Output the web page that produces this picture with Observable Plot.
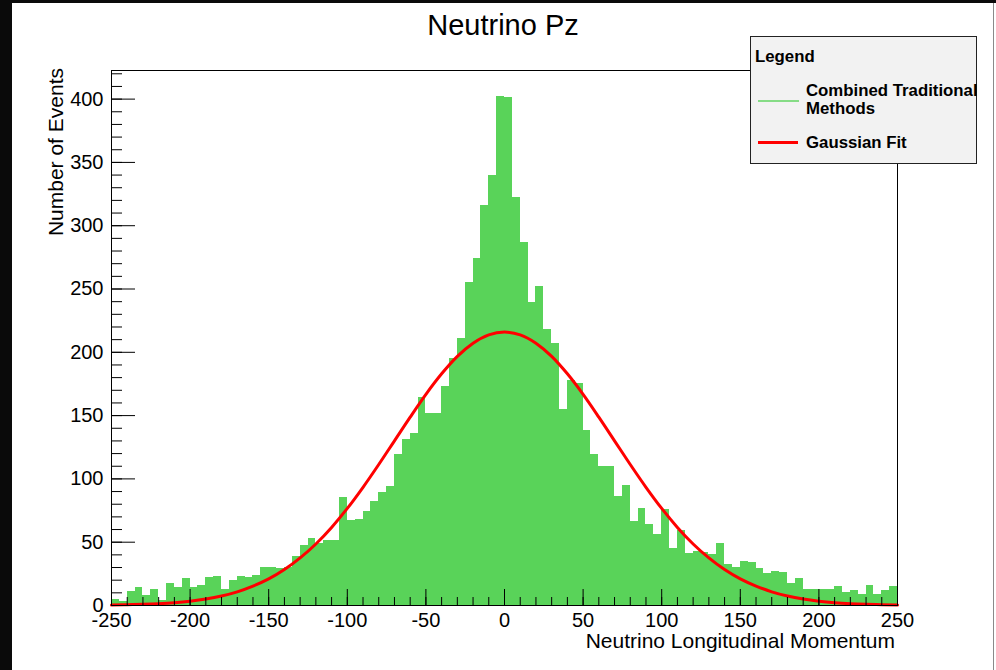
<!DOCTYPE html>
<html>
<head>
<meta charset="utf-8">
<script src="https://cdn.jsdelivr.net/npm/d3@7"></script>
<script src="https://cdn.jsdelivr.net/npm/@observablehq/plot@0.6"></script>
<style>
  html, body { margin: 0; padding: 0; background: #0a0a0a; }
  #wrap { position: relative; width: 996px; height: 670px; overflow: hidden;
          font-family: "Liberation Sans", Arial, Helvetica, sans-serif; color: #000; }
  #panel { position: absolute; left: 12px; top: 3px; width: 984px; height: 667px; background: #fff; }
  #edge { position: absolute; left: 993px; top: 3px; width: 1px; height: 667px; background: #8a8a8a; }
  #chart { position: absolute; left: 0; top: 0; }
  .txt { position: absolute; white-space: nowrap; line-height: 1; }
  #title { left: 303px; width: 400px; text-align: center; top: 11px; font-size: 29px; }
  #ytitle { left: 45px; top: 368px; width: 300px; text-align: right; font-size: 21px;
            transform-origin: 0 0; transform: rotate(-90deg); }
  #xtitle { left: 495px; width: 400px; text-align: right; top: 630px; font-size: 21px; }
  #legend { position: absolute; left: 750px; top: 36px; width: 225px; height: 126px;
            background: #f2f2f2; border: 1px solid #222; overflow: visible; }
  .lg { position: absolute; white-space: nowrap; line-height: 1; font-size: 16.8px; font-weight: bold; }
  .sw { position: absolute; }
</style>
</head>
<body>
<div id="wrap">
  <div id="panel"></div>
  <div id="edge"></div>
  <div id="chart"></div>
  <div id="title" class="txt"></div>
  <div id="ytitle" class="txt"></div>
  <div id="xtitle" class="txt"></div>
  <div id="legend"></div>
</div>
<script>
// ---- data ----
const chartTitle = "Neutrino Pz";
const xTitle = "Neutrino Longitudinal Momentum";
const yTitle = "Number of Events";
const legendTitle = "Legend";
const seriesNames = ["Combined Traditional\nMethods", "Gaussian Fit"];

// histogram: 100 bins of width 5 from -250 to 250
const binWidth = 5;
const binLow = d3.range(-250, 250, binWidth);
const counts = [
  5, 3, 11, 14, 8, 13, 4, 17, 14, 21,
  14, 16, 22, 23, 13, 20, 23, 22, 24, 30,
  30, 29, 30, 39, 47, 53, 49, 51, 51, 85,
  67, 68, 74, 82, 89, 94, 119, 131, 136, 164,
  152, 152, 173, 195, 211, 255, 274, 316, 340, 402,
  401, 322, 287, 239, 252, 218, 207, 155, 178, 175,
  138, 119, 110, 110, 86, 95, 66, 77, 64, 56,
  76, 45, 59, 41, 43, 42, 40, 49, 32, 30,
  35, 34, 29, 25, 27, 26, 17, 21, 13, 13,
  13, 13, 15, 10, 12, 9, 16, 9, 12, 15
];

// fitted curve, read every 10 units
const fitX = d3.range(-250, 251, 10);
const fitY = [
  0.3, 0.6, 0.9, 1.4, 2.2, 3.4, 5.1, 7.5, 10.8, 15.3,
  21.0, 28.4, 37.6, 48.6, 61.7, 76.7, 93.4, 111.4, 130.1, 148.8,
  166.8, 183.0, 196.8, 207.2, 213.8, 216.0, 213.8, 207.2, 196.8, 183.0,
  166.8, 148.8, 130.1, 111.4, 93.4, 76.7, 61.7, 48.6, 37.6, 28.4,
  21.0, 15.3, 10.8, 7.5, 5.1, 3.4, 2.2, 1.4, 0.9, 0.6, 0.3
];

// axes
const xMajorTicks = [-250, -200, -150, -100, -50, 0, 50, 100, 150, 200, 250];
const xMinorTicks = d3.range(-250, 251, 10);
const yMajorTicks = [0, 50, 100, 150, 200, 250, 300, 350, 400];
const yMinorTicks = d3.range(0, 421, 10);
const yMax = 422.6;

const histColor = "#59d359";
const fitColor = "#ff0000";

// ---- build ----
const bins = binLow.map((x0, i) => ({x1: x0, x2: x0 + binWidth, y: counts[i]}));
const fit = fitX.map((x, i) => ({x, y: fitY[i]}));

const chart = Plot.plot({
  width: 996,
  height: 670,
  marginLeft: 111,
  marginRight: 99,
  marginTop: 70,
  marginBottom: 65,
  style: {background: "transparent", fontFamily: "Liberation Sans, Arial, Helvetica, sans-serif", color: "#000", overflow: "visible"},
  x: {domain: [-250, 250]},
  y: {domain: [0, yMax]},
  marks: [
    Plot.rectY(bins, {x1: "x1", x2: "x2", y: "y", fill: histColor, shapeRendering: "crispEdges"}),
    Plot.line(fit, {x: "x", y: "y", stroke: fitColor, strokeWidth: 3, curve: "monotone-x"}),
    Plot.axisX(xMinorTicks, {tickSize: -8, fill: "none", stroke: "#000", label: null}),
    Plot.axisX(xMajorTicks, {tickSize: -16, fill: "none", stroke: "#000", label: null}),
    Plot.axisX(xMajorTicks, {tickSize: 0, tickPadding: 7, fontSize: 20, label: null, tickFormat: d => String(d)}),
    Plot.axisY(yMinorTicks, {tickSize: -11, fill: "none", stroke: "#000", label: null}),
    Plot.axisY(yMajorTicks, {tickSize: -24, fill: "none", stroke: "#000", label: null}),
    Plot.axisY(yMajorTicks, {tickSize: 0, tickPadding: 8, fontSize: 20, label: null, tickFormat: d => String(d)}),
    Plot.frame({stroke: "#000", strokeWidth: 1})
  ]
});
document.getElementById("chart").appendChild(chart);

document.getElementById("title").textContent = chartTitle;
document.getElementById("xtitle").textContent = xTitle;
document.getElementById("ytitle").textContent = yTitle;

// legend (positions relative to legend box at 750,36)
const lg = document.getElementById("legend");
function addText(t, left, top) {
  const d = document.createElement("div");
  d.className = "lg"; d.textContent = t;
  d.style.left = left + "px"; d.style.top = top + "px";
  lg.appendChild(d);
}
function addSwatch(color, left, top, w, h) {
  const d = document.createElement("div");
  d.className = "sw";
  d.style.left = left + "px"; d.style.top = top + "px";
  d.style.width = w + "px"; d.style.height = h + "px";
  d.style.background = color;
  lg.appendChild(d);
}
addText(legendTitle, 4, 12);
const [l1a, l1b] = seriesNames[0].split("\n");
addSwatch("#86dc86", 7, 63, 41, 1.5);
addText(l1a, 55, 46);
addText(l1b, 55, 64);
addSwatch(fitColor, 7, 104, 40, 3);
addText(seriesNames[1], 55, 98);
</script>
</body>
</html>
